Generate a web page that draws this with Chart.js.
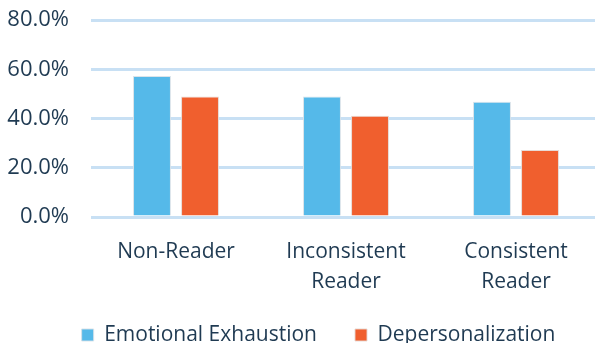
<!DOCTYPE html>
<html>
<head>
<meta charset="utf-8">
<script src="https://cdn.jsdelivr.net/npm/chart.js@4.4.0/dist/chart.umd.min.js"></script>
<style>
	html, body { margin: 0; padding: 0; background: #fff; overflow: hidden; }
	#wrap { width: 628px; height: 343px; }
</style>
</head>
<body>
<div id="wrap"><canvas id="myChart" width="628" height="343"></canvas></div>
<script>
'use strict';

const categories = ['Non-Reader', ['Inconsistent', 'Reader'], ['Consistent', 'Reader']];
const emotionalExhaustion = [57.3, 48.9, 46.8];
const depersonalization = [48.9, 41.1, 27.2];
const yTicks = [0, 20, 40, 60, 80];

const textColor = '#1f3a52';
const fontFamily = '"Open Sans", "DejaVu Sans", sans-serif';

// legend takes little room in the layout, then gets moved under the labels
const legendPlacement = {
	id: 'legendPlacement',
	beforeInit(chart) {
		const originalFit = chart.legend.fit;
		chart.legend.fit = function fit() {
			originalFit.bind(chart.legend)();
			this.height = 40;
		};
	},
	afterLayout(chart) {
		const legend = chart.legend;
		legend.top = 286.5;
		legend.left += 18;
		legend.right += 18;
	},
};

function displayGraph() {
	const ctx = document.getElementById('myChart').getContext('2d');
	new Chart(ctx, {
		type: 'bar',
		data: {
			labels: categories,
			datasets: [
				{
					label: 'Emotional Exhaustion',
					data: emotionalExhaustion,
					backgroundColor: '#55b9e9',
					borderColor: 'rgba(215, 225, 232, 0.9)',
					borderWidth: 1,
				},
				{
					label: 'Depersonalization',
					data: depersonalization,
					backgroundColor: '#f05f2e',
					borderColor: 'rgba(230, 215, 210, 0.9)',
					borderWidth: 1,
				},
			],
		},
		options: {
			responsive: false,
			animation: false,
			layout: { padding: { left: 0, right: 27, top: 20, bottom: 0 } },
			datasets: {
				bar: { categoryPercentage: 0.565, barPercentage: 0.79 },
			},
			scales: {
				x: {
					grid: { display: false, drawTicks: false },
					border: { display: false },
					afterFit: (scale) => {
						scale.height = 86;
						scale.paddingLeft = 0;
						scale.paddingRight = 0;
					},
					ticks: {
						color: textColor,
						padding: 20,
						font: { family: fontFamily, size: 21, lineHeight: 1.42 },
						maxRotation: 0,
					},
				},
				y: {
					min: 0,
					max: 80,
					afterBuildTicks: (scale) => {
						scale.ticks = yTicks.map((v) => ({ value: v }));
					},
					afterFit: (scale) => {
						scale.width = 91;
						scale.paddingTop = 0;
						scale.paddingBottom = 0;
					},
					grid: { color: '#c8e0f4', lineWidth: 3, drawTicks: false },
					border: { display: false },
					ticks: {
						color: textColor,
						padding: 22,
						font: { family: fontFamily, size: 22 },
						callback: (v) => v.toFixed(1) + '%',
					},
				},
			},
			plugins: {
				tooltip: { enabled: false },
				legend: {
					position: 'bottom',
					labels: {
						color: textColor,
						boxWidth: 12,
						boxHeight: 12,
						padding: 38,
						font: { family: fontFamily, size: 21 },
					},
				},
			},
		},
		plugins: [legendPlacement],
	});
}

displayGraph();
</script>
</body>
</html>
